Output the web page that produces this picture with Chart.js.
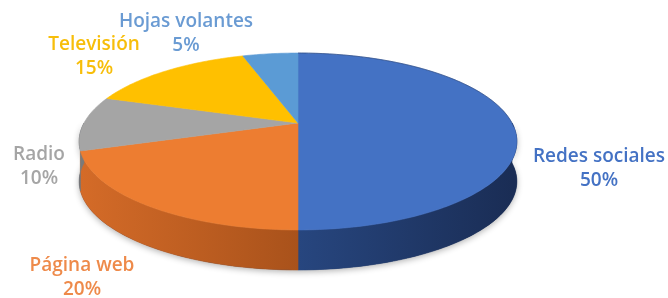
<!DOCTYPE html>
<html>
<head>
<meta charset="utf-8">
<script src="https://cdn.jsdelivr.net/npm/chart.js@4.4.1/dist/chart.umd.min.js"></script>
<style>
  html, body { margin: 0; padding: 0; background: #ffffff; }
  #wrap { width: 668px; height: 298px; }
</style>
</head>
<body>
<div id="wrap"><canvas id="pieChart" width="668" height="298"></canvas></div>
<script>
// --- Daten ---
const categories = ['Redes sociales', 'Página web', 'Radio', 'Televisión', 'Hojas volantes'];
const percents = [50, 20, 10, 15, 5];

// --- Farben ---
const topColors = ['#4472C4', '#ED7D31', '#A5A5A5', '#FFC000', '#5B9BD5'];
const sideColors = [
    ['#27467f', '#1a2d55'],   // blau: innen -> aussen
    ['#a9521b', '#d46b28'],   // orange
    ['#8a8a8a', '#7a7a7a'],
    ['#d9a300', '#c79500'],
    ['#4a82b8', '#3c6d9c']
];
const labelColors = ['#4472C4', '#EE8A4A', '#A5A5A5', '#F7BE0A', '#6A9BD3'];

// --- Layout der Beschriftungen (Mittelpunkt der ersten Zeile) ---
const labelPos = [[599, 157], [82, 266], [39, 155], [94, 45], [186, 22]];
const LINE_GAP = 24;

// --- 3D Geometrie (Perspektive) ---
const CX = 298, CY = 123;     // Spitze der Stücke
const A = 214, B = 84.6;      // Halbachsen
const P = 0.209;              // Perspektivfaktor
const DEPTH = 40;             // Höhe der Seitenwand

function proj(t, d) {
    const X = Math.cos(t), Z = Math.sin(t), w = 1 - P * Z;
    return [CX + A * X / w, CY + B * Z / w + d * DEPTH];
}

function arcPath(ctx, s, e, d, reverse) {
    const n = Math.max(2, Math.ceil((e - s) / 0.02));
    for (let k = 0; k <= n; k++) {
        const t = reverse ? e - (e - s) * k / n : s + (e - s) * k / n;
        const p = proj(t, d);
        ctx.lineTo(p[0], p[1]);
    }
}

const pie3d = {
    id: 'pie3d',
    beforeDatasetsDraw(chart) {
        const ctx = chart.ctx;
        const arcs = chart.getDatasetMeta(0).data.map(a => a.getProps(['startAngle', 'endAngle'], true));

        // weicher Schatten unter dem Kuchen
        ctx.save();
        ctx.beginPath();
        arcPath(ctx, 0, Math.PI, 1, false);
        arcPath(ctx, 0, Math.PI, 0, true);
        ctx.closePath();
        ctx.shadowColor = 'rgba(0,0,0,0.3)';
        ctx.shadowBlur = 6;
        ctx.shadowOffsetY = 2;
        ctx.fillStyle = '#1b2f58';
        ctx.fill();
        ctx.restore();

        // Seitenwände (nur vorne sichtbar)
        arcs.forEach((arc, i) => {
            const s = Math.max(arc.startAngle, 0);
            const e = Math.min(arc.endAngle, Math.PI);
            if (e <= s) return;
            const p2 = proj(e, 1);
            const g = ctx.createLinearGradient(CX, 0, i === 0 ? CX + A : p2[0], 0);
            g.addColorStop(0, sideColors[i][0]);
            g.addColorStop(1, sideColors[i][1]);
            ctx.beginPath();
            arcPath(ctx, s, e, 0, false);
            arcPath(ctx, s, e, 1, true);
            ctx.closePath();
            ctx.fillStyle = g;
            ctx.fill();
            ctx.strokeStyle = g;
            ctx.lineWidth = 0.6;
            ctx.stroke();
        });

        // Oberseite
        arcs.forEach((arc, i) => {
            ctx.beginPath();
            ctx.moveTo(CX, CY);
            arcPath(ctx, arc.startAngle, arc.endAngle, 0, false);
            ctx.closePath();
            ctx.fillStyle = topColors[i];
            ctx.fill();
            ctx.strokeStyle = topColors[i];
            ctx.lineWidth = 0.6;
            ctx.stroke();
        });

        // dunkle Kante oben
        ctx.beginPath();
        arcPath(ctx, -Math.PI / 2, 0.05, 0, false);
        ctx.strokeStyle = 'rgba(30,50,90,0.45)';
        ctx.lineWidth = 1;
        ctx.stroke();

        return false; // Standard-Zeichnen unterdrücken
    },
    afterDraw(chart) {
        const ctx = chart.ctx;
        ctx.save();
        ctx.font = '600 19px "Open Sans", sans-serif';
        ctx.textAlign = 'center';
        ctx.textBaseline = 'middle';
        categories.forEach((c, i) => {
            ctx.fillStyle = labelColors[i];
            ctx.fillText(c, labelPos[i][0], labelPos[i][1]);
            ctx.fillText(percents[i] + '%', labelPos[i][0], labelPos[i][1] + LINE_GAP);
        });
        ctx.restore();
    }
};

new Chart(document.getElementById('pieChart'), {
    type: 'pie',
    data: {
        labels: categories,
        datasets: [{ data: percents, backgroundColor: topColors, borderWidth: 0 }]
    },
    options: {
        responsive: false,
        animation: false,
        plugins: { legend: { display: false }, tooltip: { enabled: false } }
    },
    plugins: [pie3d]
});
</script>
</body>
</html>
